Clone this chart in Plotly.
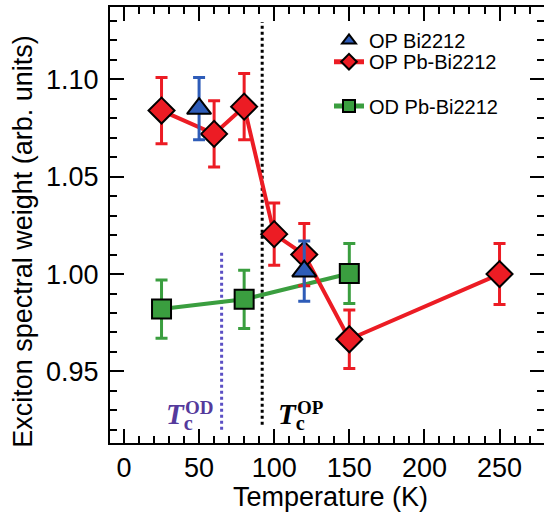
import plotly.graph_objects as go

# Optimally doped Bi2212
t_op = [50, 120]
w_op = [1.085, 1.0015]
e_op = [0.016, 0.0155]

# Optimally doped Pb-Bi2212
t_oppb = [25, 60, 80, 100, 120, 150, 250]
w_oppb = [1.084, 1.072, 1.086, 1.0205, 1.010, 0.9665, 1.000]
e_oppb = [0.017, 0.017, 0.017, 0.016, 0.016, 0.015, 0.0157]

# Overdoped Pb-Bi2212
t_od = [25, 80, 150]
w_od = [0.982, 0.987, 1.0003]
e_od = [0.015, 0.015, 0.0154]

# Critical temperatures (K)
TC_OD = 65
TC_OP = 92

RED = "#ec1c24"
BLUE = "#2e5cb8"
GREEN = "#3a9e3f"
PURPLE_LINE = "#5b4fc4"
PURPLE_TEXT = "#553a9c"
SANS = "Liberation Sans, Arial, Helvetica, sans-serif"
SERIF = "Liberation Serif, Times New Roman, serif"

XR = [-9.3, 279.6]
YR = [0.9132, 1.1372]

fig = go.Figure()

fig.add_trace(go.Scatter(
    x=t_od, y=w_od, mode="lines+markers", name="OD Pb-Bi2212",
    line=dict(color=GREEN, width=4),
    marker=dict(symbol="square", size=19, color=GREEN, line=dict(color="black", width=2)),
    error_y=dict(type="data", array=e_od, color=GREEN, thickness=3, width=6),
    legend="legend3",
))
fig.add_trace(go.Scatter(
    x=t_oppb, y=w_oppb, mode="lines+markers", name="OP Pb-Bi2212",
    line=dict(color=RED, width=4),
    marker=dict(symbol="diamond", size=20, color=RED, line=dict(color="black", width=2)),
    error_y=dict(type="data", array=e_oppb, color=RED, thickness=3, width=6),
    legend="legend2",
))
fig.add_trace(go.Scatter(
    x=t_op, y=w_op, mode="markers", name="OP Bi2212",
    marker=dict(symbol="triangle-up", size=21, color=BLUE, line=dict(color="black", width=2)),
    error_y=dict(type="data", array=e_op, color=BLUE, thickness=3, width=6),
    legend="legend",
))
# carrier trace for the right-hand tick axis
fig.add_trace(go.Scatter(x=[], y=[], yaxis="y2", showlegend=False, hoverinfo="skip"))

# Tc markers
fig.add_shape(type="line", xref="x", yref="y", x0=TC_OP, x1=TC_OP, y0=0.9226, y1=1.1295,
              line=dict(color="black", width=3, dash="3px,3px"), layer="below")
fig.add_shape(type="line", xref="x", yref="y", x0=TC_OD, x1=TC_OD, y0=0.920, y1=1.0125,
              line=dict(color=PURPLE_LINE, width=3, dash="3px,3px"), layer="below")


def tc_label(x_left, tag, color):
    # T with subscript c, and the sample tag stacked above the subscript
    pad = "\u00a0" * 4
    text = ("<span style='font-size:19px'><b>" + pad + tag + "</b></span><br>"
            "<span style='font-size:29px'><b><i>T</i></b><sub><b>c</b></sub></span>")
    fig.add_annotation(x=x_left, y=0.9275, xref="x", yref="y", text=text,
                       showarrow=False, align="left", borderpad=0,
                       font=dict(family=SERIF, size=7.7, color=color),
                       xanchor="left", yanchor="middle")


tc_label(27.2, "OD", PURPLE_TEXT)
tc_label(102.0, "OP", "black")

axis_common = dict(
    ticks="inside", ticklen=14, tickwidth=2, tickcolor="black",
    linecolor="black", linewidth=2, showgrid=False, zeroline=False,
    tickfont=dict(family=SANS, size=27, color="black"),
)

legend_common = dict(x=0.5046, xanchor="left", yanchor="top",
                     bgcolor="rgba(0,0,0,0)", borderwidth=0, itemsizing="constant",
                     font=dict(family=SANS, size=20, color="black"))

fig.update_layout(
    width=544, height=521,
    margin=dict(l=110, r=0, t=7, b=78),
    paper_bgcolor="white", plot_bgcolor="white",
    xaxis=dict(range=XR, dtick=50, tick0=0, showline=True, mirror="ticks",
               minor=dict(dtick=10, tick0=0, ticks="inside", ticklen=7, tickwidth=2, tickcolor="black"),
               **axis_common),
    yaxis=dict(range=YR, dtick=0.05, tick0=0.95, tickformat=".2f", showline=True,
               ticklabelstandoff=4,
               minor=dict(dtick=0.01, tick0=0.95, ticks="inside", ticklen=7, tickwidth=2, tickcolor="black"),
               **axis_common),
    yaxis2=dict(range=YR, overlaying="y", side="right", anchor="x", dtick=0.05, tick0=0.95,
                showticklabels=False, showline=False, showgrid=False, zeroline=False,
                ticks="inside", ticklen=14, tickwidth=2, tickcolor="black",
                minor=dict(dtick=0.01, tick0=0.95, ticks="inside", ticklen=7, tickwidth=2, tickcolor="black")),
    showlegend=True,
    legend=dict(y=0.9679, **legend_common),
    legend2=dict(y=0.9193, **legend_common),
    legend3=dict(y=0.8177, **legend_common),
)

fig.add_annotation(text="Temperature (K)", xref="paper", yref="paper", x=0.508, y=-0.123,
                   showarrow=False, xanchor="center", yanchor="middle",
                   font=dict(family=SANS, size=27, color="black"))
fig.add_annotation(text="Exciton spectral weight (arb. units)", xref="paper", yref="paper",
                   x=-0.2005, y=0.4637, textangle=-90, showarrow=False,
                   xanchor="center", yanchor="middle",
                   font=dict(family=SANS, size=27, color="black"))

fig.write_html("out.html")
